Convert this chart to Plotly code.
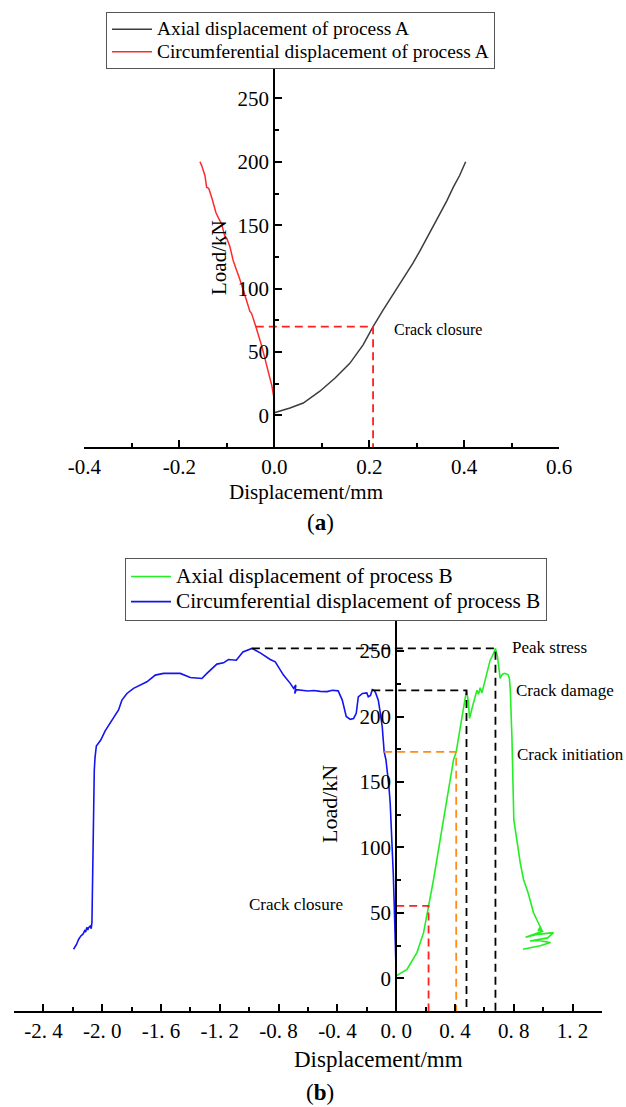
import plotly.graph_objects as go

# ---------------- data: process A ----------------
a_axial_disp = [0.0, 0.033, 0.061, 0.096, 0.128, 0.159, 0.187, 0.208, 0.229, 0.257,
                0.275, 0.292, 0.307, 0.321, 0.335, 0.349, 0.363, 0.377, 0.39, 0.403]
a_axial_load = [2, 5.8, 9.7, 19, 29.4, 41, 55.6, 70, 83, 99.5,
                109, 120, 130, 139.5, 149, 159, 169, 180, 189, 200]

a_circ_disp = [0.0, 0.0, -0.005, -0.012, -0.026, -0.039, -0.044, -0.048, -0.0514, -0.0583,
               -0.0655, -0.0724, -0.0794, -0.0865, -0.0935, -0.1, -0.104, -0.111, -0.118,
               -0.123, -0.132, -0.138, -0.1426, -0.146, -0.153, -0.1566]
a_circ_load = [2, 12, 23, 33, 54, 70, 75, 80.5, 82, 91,
               99, 107, 114.5, 122, 133, 139.5, 141, 151, 156,
               160, 172, 179, 180, 189, 197, 200]

a_stage_names = ["Crack closure"]
a_stage_load = [70]
a_stage_axial = [0.208]
a_stage_circ = [-0.039]

a_xtick_vals = [-0.4, -0.2, 0.0, 0.2, 0.4, 0.6]
a_xtick_text = ["-0.4", "-0.2", "0.0", "0.2", "0.4", "0.6"]

# ---------------- data: process B ----------------
b_axial_disp = [0.0, 0.073, 0.141, 0.186, 0.22, 0.254, 0.299, 0.345, 0.39, 0.408,
                0.44, 0.478, 0.49, 0.499, 0.515, 0.549, 0.56, 0.571, 0.583,
                0.617, 0.639, 0.662, 0.675, 0.689, 0.707, 0.72, 0.735, 0.76, 0.77, 0.776,
                0.787, 0.8, 0.844, 0.866, 0.898, 0.934, 0.98,
                0.99, 0.965, 0.975, 0.995, 0.88, 0.95, 1.07, 1.03, 0.91, 0.97, 1.05,
                0.98, 0.862]
b_axial_load = [2, 7, 19.8, 35, 55.3, 75.6, 106, 136.5, 167, 173,
                195, 220, 212, 198.6, 206, 220, 217, 222, 218,
                233, 243, 248, 252, 245.7, 229, 232, 233, 232, 229, 220,
                184.6, 121, 88, 75.6, 65, 50.2, 40,
                37, 36.5, 38.5, 36, 31.5, 33.5, 35, 31, 28.6, 29, 27.4,
                25, 22.3]

b_circ_disp = [0.0, -0.003, -0.008, -0.014, -0.02, -0.027, -0.034, -0.041, -0.05, -0.06,
               -0.07, -0.082, -0.095, -0.11, -0.122, -0.14, -0.15, -0.163, -0.175, -0.19,
               -0.2, -0.23, -0.245, -0.258, -0.272, -0.29, -0.313, -0.34, -0.367, -0.395,
               -0.435, -0.47, -0.517, -0.56, -0.6, -0.626, -0.66, -0.68, -0.69, -0.683,
               -0.698, -0.721, -0.767, -0.823, -0.857, -0.925, -0.982, -1.043, -1.088,
               -1.141, -1.175, -1.22, -1.288, -1.322, -1.401, -1.469, -1.583, -1.639,
               -1.696, -1.787, -1.832, -1.866, -1.889, -1.93, -1.98, -2.01, -2.04,
               -2.049, -2.054, -2.058, -2.062, -2.066, -2.07,
               -2.075, -2.082, -2.093, -2.098, -2.105, -2.113, -2.12, -2.13, -2.145,
               -2.16, -2.175, -2.195]
b_circ_load = [2, 20, 40, 58, 80, 101, 118, 134, 147, 159,
               167, 173, 192, 204, 212.5, 218, 220, 220.5, 216, 215,
               218, 217.6, 216, 215, 202.4, 198.5, 197.8, 200, 212.5, 219.6,
               220, 219, 219.2, 219.8, 219.5, 220, 220.3, 220.5, 217.5, 224,
               221.5, 225.3, 231.6, 241.7, 243.5, 248.6, 252, 249.3, 243,
               243.5, 241, 240, 232.9, 229, 229.8, 232.9, 232.9, 231.6,
               226.5, 221.5, 217.6, 212.5, 205, 198, 189, 182, 177.5,
               168.6, 159, 130, 96, 75.6, 42.6,
               38, 40, 38.8, 37, 39, 35.5, 36.5, 34, 32.5,
               30, 26, 22.3]

b_stage_names = ["Crack closure", "Crack initiation", "Crack damage", "Peak stress"]
b_stage_load = [55.5, 173, 220, 252]
b_stage_axial = [0.22, 0.408, 0.478, 0.675]
b_stage_circ = [0.0, -0.082, -0.163, -0.982]

b_xtick_vals = [-2.4, -2.0, -1.6, -1.2, -0.8, -0.4, 0.0, 0.4, 0.8, 1.2]
b_xtick_text = ["-2. 4", "-2. 0", "-1. 6", "-1. 2", "-0. 8", "-0. 4", "0. 0", "0. 4", "0. 8", "1. 2"]

y_range = [-25, 275]

# ---------------- styling ----------------
FONT = "Liberation Serif"
DASH = "8px,5px"
stage_color_a = ["#ff2020"]
stage_color_b = ["#ff2020", "#ff8c1a", "black", "black"]


def big(txt, px):
    return '<span style="font-size:%spx">%s</span>' % (px, txt)


fig = go.Figure()

# process A curves
fig.add_trace(go.Scatter(x=a_axial_disp, y=a_axial_load, mode="lines",
                         line=dict(color="#3c3c3c", width=1.5),
                         name=big("Axial displacement of process A", 19.4),
                         xaxis="x", yaxis="y", legend="legend"))
fig.add_trace(go.Scatter(x=a_circ_disp, y=a_circ_load, mode="lines",
                         line=dict(color="#ff2a2a", width=1.5),
                         name=big("Circumferential displacement of process A", 19.4),
                         xaxis="x", yaxis="y", legend="legend"))

for i in range(len(a_stage_names)):
    fig.add_trace(go.Scatter(
        x=[a_stage_circ[i], a_stage_axial[i], a_stage_axial[i]],
        y=[a_stage_load[i], a_stage_load[i], y_range[0]],
        mode="lines", line=dict(color=stage_color_a[i], width=1.8, dash=DASH),
        showlegend=False, hoverinfo="skip", xaxis="x", yaxis="y"))

# process B curves
fig.add_trace(go.Scatter(x=b_axial_disp, y=b_axial_load, mode="lines",
                         line=dict(color="#22ee22", width=1.6),
                         name=big("Axial displacement of process B", 21.3),
                         xaxis="x2", yaxis="y2", legend="legend2"))
fig.add_trace(go.Scatter(x=b_circ_disp, y=b_circ_load, mode="lines",
                         line=dict(color="#1414f0", width=1.6),
                         name=big("Circumferential displacement of process B", 21.3),
                         xaxis="x2", yaxis="y2", legend="legend2"))

for i in range(len(b_stage_names)):
    fig.add_trace(go.Scatter(
        x=[b_stage_circ[i], b_stage_axial[i], b_stage_axial[i]],
        y=[b_stage_load[i], b_stage_load[i], y_range[0]],
        mode="lines", line=dict(color=stage_color_b[i], width=1.8, dash=DASH),
        showlegend=False, hoverinfo="skip", xaxis="x2", yaxis="y2"))

# ---------------- axes ----------------
xa_dom = [0.1348, 0.8933]
xa_rng = [-0.4, 0.6]
xb_dom = [0.0224, 0.9617]
xb_rng = [-2.6, 1.4]


def zero_pos(dom, rng):
    return dom[0] + (0 - rng[0]) / (rng[1] - rng[0]) * (dom[1] - dom[0])


axis_common = dict(showline=True, linecolor="black", linewidth=2, ticks="inside",
                   tickcolor="black", tickwidth=2, showgrid=False, zeroline=False,
                   automargin=False,
                   tickfont=dict(family=FONT, size=21, color="black"))

fig.update_layout(
    xaxis=dict(domain=xa_dom, range=xa_rng, anchor="y", ticklen=7,
               tickmode="array", tickvals=a_xtick_vals, ticktext=a_xtick_text,
               minor=dict(ticks="inside", ticklen=4, tickwidth=2, tickcolor="black",
                          dtick=0.1, tick0=0),
               **axis_common),
    yaxis=dict(domain=[0.5962, 0.9397], range=y_range, anchor="free",
               position=zero_pos(xa_dom, xa_rng), side="left", ticklen=7,
               dtick=50, tick0=0,
               minor=dict(ticks="inside", ticklen=4, tickwidth=2, tickcolor="black",
                          dtick=25, tick0=0),
               **axis_common),
    xaxis2=dict(domain=xb_dom, range=xb_rng, anchor="y2", ticklen=7,
                tickmode="array", tickvals=b_xtick_vals, ticktext=b_xtick_text,
                minor=dict(ticks="inside", ticklen=4, tickwidth=2, tickcolor="black",
                           dtick=0.2, tick0=0),
                **axis_common),
    yaxis2=dict(domain=[0.0865, 0.4415], range=y_range, anchor="free",
                position=zero_pos(xb_dom, xb_rng), side="left", ticklen=7,
                dtick=50, tick0=0,
                minor=dict(ticks="inside", ticklen=4, tickwidth=2, tickcolor="black",
                           dtick=25, tick0=0),
                **axis_common),
)

fig.update_layout(
    template="none",
    width=626, height=1107, autosize=False,
    margin=dict(l=0, r=0, t=0, b=0, pad=0, autoexpand=False),
    paper_bgcolor="white", plot_bgcolor="white",
    font=dict(family=FONT, color="black"),
    legend=dict(x=106 / 626, y=1 - 12 / 1107, xanchor="left", yanchor="top",
                bgcolor="white", bordercolor="#555555", borderwidth=1, itemwidth=40,
                font=dict(family=FONT, size=15, color="black"), tracegroupgap=0),
    legend2=dict(x=125 / 626, y=1 - 558 / 1107, xanchor="left", yanchor="top",
                 bgcolor="white", bordercolor="#555555", borderwidth=1, itemwidth=40,
                 font=dict(family=FONT, size=17, color="black"), tracegroupgap=0),
    showlegend=True,
)

ann = []
center = dict(xref="paper", yref="paper", xanchor="center", yanchor="middle", showarrow=False)
# panel titles / axis titles
ann.append(dict(text="(<b>a</b>)", x=320 / 626, y=1 - 523 / 1107,
                font=dict(family=FONT, size=23), **center))
ann.append(dict(text="(<b>b</b>)", x=320 / 626, y=1 - 1092 / 1107,
                font=dict(family=FONT, size=23), **center))
ann.append(dict(text="Displacement/mm", x=306 / 626, y=1 - 492 / 1107,
                font=dict(family=FONT, size=21), **center))
ann.append(dict(text="Displacement/mm", x=378 / 626, y=1 - 1059 / 1107,
                font=dict(family=FONT, size=23), **center))
ann.append(dict(text="Load/kN", x=219 / 626, y=1 - 258 / 1107, textangle=-90,
                font=dict(family=FONT, size=21), **center))
ann.append(dict(text="Load/kN", x=329 / 626, y=1 - 804 / 1107, textangle=-90,
                font=dict(family=FONT, size=22), **center))

# stage labels
ann.append(dict(text=a_stage_names[0], x=a_stage_axial[0] + 0.039, y=a_stage_load[0] - 2.6,
                xref="x", yref="y", xanchor="left", yanchor="middle", showarrow=False,
                font=dict(family=FONT, size=16)))
b_label_dx = [None, 0.397, 0.32, 0.101]
b_label_dy = [0.8, -2.3, -0.4, 0.5]
for i in range(len(b_stage_names)):
    if i == 0:
        ann.append(dict(text=b_stage_names[i], x=-0.347, y=b_stage_load[i] + b_label_dy[i],
                        xref="x2", yref="y2", xanchor="right", yanchor="middle",
                        showarrow=False, font=dict(family=FONT, size=17)))
    else:
        ann.append(dict(text=b_stage_names[i], x=b_stage_axial[i] + b_label_dx[i],
                        y=b_stage_load[i] + b_label_dy[i],
                        xref="x2", yref="y2", xanchor="left", yanchor="middle",
                        showarrow=False, font=dict(family=FONT, size=17)))

fig.update_layout(annotations=ann)

fig.write_html("out.html",
               config={"responsive": False, "displayModeBar": False},
               post_script="document.body.style.margin='0';document.body.style.overflow='hidden';")
